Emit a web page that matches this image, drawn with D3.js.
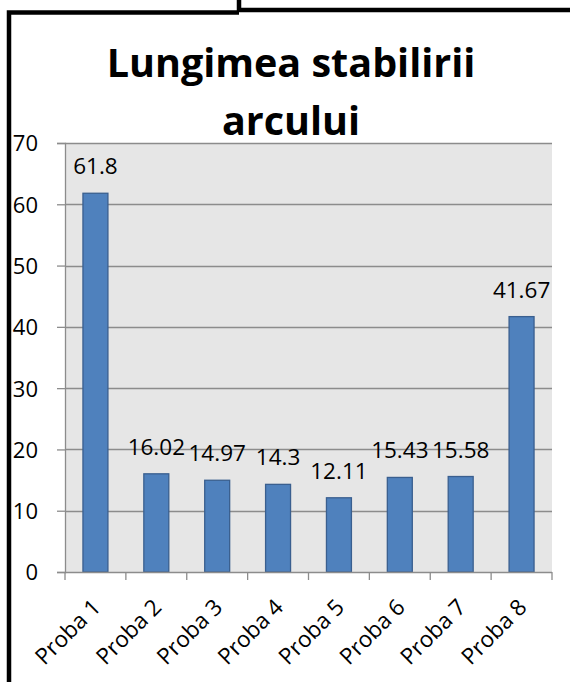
<!DOCTYPE html>
<html>
<head>
<meta charset="utf-8">
<script src="https://cdn.jsdelivr.net/npm/d3@7"></script>
<style>
  html, body { margin: 0; padding: 0; background: #fff; }
  svg { display: block; }
  text { font-family: "Open Sans", sans-serif; fill: #000; }
</style>
</head>
<body>
<svg id="chart" width="570" height="682"></svg>
<script>
// Chart data
const categories = ["Proba 1", "Proba 2", "Proba 3", "Proba 4", "Proba 5", "Proba 6", "Proba 7", "Proba 8"];
const values = [61.8, 16.02, 14.97, 14.3, 12.11, 15.43, 15.58, 41.67];
const valueLabels = ["61.8", "16.02", "14.97", "14.3", "12.11", "15.43", "15.58", "41.67"];
const yTicks = [0, 10, 20, 30, 40, 50, 60, 70];
const titleLines = ["Lungimea stabilirii", "arcului"];

const svg = d3.select("#chart");
const W = 570, H = 682;

// Plot area
const plot = { left: 65, right: 552, top: 143, bottom: 572 };

const x = d3.scaleBand()
  .domain(categories)
  .range([plot.left, plot.right])
  .paddingInner(0.59)
  .paddingOuter(0.295);

const xOuter = d3.scaleBand().domain(categories).range([plot.left, plot.right]);

const y = d3.scaleLinear().domain([0, 70]).range([plot.bottom, plot.top]);

// Frame lines of the surrounding document
const frame = svg.append("g").attr("stroke", "#000").attr("stroke-width", 4.5).attr("fill", "none");
frame.append("path").attr("d", `M9,${H} V12.5 H239`);
frame.append("path").attr("d", `M239,0 V10 H${W}`);

// Plot background
svg.append("rect")
  .attr("x", plot.left).attr("y", plot.top)
  .attr("width", plot.right - plot.left).attr("height", plot.bottom - plot.top)
  .attr("fill", "#e6e6e6");

// Horizontal gridlines
svg.append("g")
  .selectAll("line")
  .data(yTicks.filter(d => d > 0))
  .join("line")
  .attr("x1", plot.left).attr("x2", plot.right)
  .attr("y1", d => Math.round(y(d)) + 0.5).attr("y2", d => Math.round(y(d)) + 0.5)
  .attr("stroke", "#8c8c8c").attr("stroke-width", 1.3);

// Y axis
const yAxis = svg.append("g")
  .attr("transform", `translate(${plot.left},0)`)
  .call(d3.axisLeft(y).tickValues(yTicks).tickSize(8).tickPadding(19).tickFormat(d3.format("d")));
yAxis.select(".domain").attr("stroke", "#8c8c8c").attr("stroke-width", 1.3);
yAxis.selectAll(".tick line").attr("stroke", "#8c8c8c").attr("stroke-width", 1.3);
yAxis.selectAll(".tick text")
  .attr("font-size", 22).attr("font-family", "'Open Sans', sans-serif").attr("fill", "#000")
  .attr("dy", "0.36em");

// Bars
svg.append("g")
  .selectAll("rect")
  .data(values)
  .join("rect")
  .attr("x", (d, i) => x(categories[i]))
  .attr("y", d => y(d))
  .attr("width", x.bandwidth())
  .attr("height", d => y(0) - y(d))
  .attr("fill", "#4f81bd")
  .attr("stroke", "#3a5f8f")
  .attr("stroke-width", 1.3);

// X axis line and ticks at category boundaries
const xAxisG = svg.append("g");
xAxisG.append("line")
  .attr("x1", plot.left).attr("x2", plot.right)
  .attr("y1", plot.bottom + 0.5).attr("y2", plot.bottom + 0.5)
  .attr("stroke", "#8c8c8c").attr("stroke-width", 1.3);
const boundaries = categories.map(c => xOuter(c)).concat([plot.right]);
xAxisG.selectAll("line.tick")
  .data(boundaries)
  .join("line")
  .attr("class", "tick")
  .attr("x1", d => d).attr("x2", d => d)
  .attr("y1", plot.bottom).attr("y2", plot.bottom + 8)
  .attr("stroke", "#8c8c8c").attr("stroke-width", 1.3);

// Rotated category labels
xAxisG.selectAll("text")
  .data(categories)
  .join("text")
  .attr("text-anchor", "end")
  .attr("font-size", 22.5)
  .attr("transform", d => {
    const cx = xOuter(d) + xOuter.bandwidth() / 2 + 1;
    return `translate(${cx},${plot.bottom + 31}) rotate(-45)`;
  })
  .attr("dy", "0.35em")
  .text(d => d);

// Value labels above bars
svg.append("g")
  .selectAll("text")
  .data(values)
  .join("text")
  .attr("x", (d, i) => x(categories[i]) + x.bandwidth() / 2)
  .attr("y", d => y(d) - 19)
  .attr("text-anchor", "middle")
  .attr("font-size", 22.5)
  .text((d, i) => valueLabels[i]);

// Title
svg.append("g")
  .selectAll("text")
  .data(titleLines)
  .join("text")
  .attr("x", 291)
  .attr("y", (d, i) => 77 + i * 58)
  .attr("text-anchor", "middle")
  .attr("font-size", 39.5)
  .attr("font-weight", "bold")
  .text(d => d);
</script>
</body>
</html>
